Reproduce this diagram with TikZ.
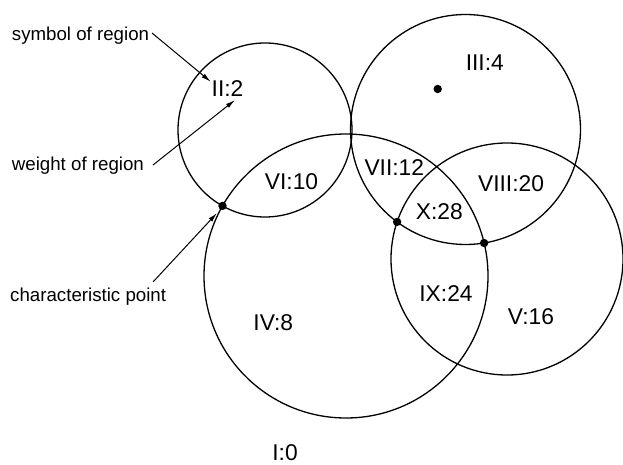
\documentclass[tikz,border=0pt]{standalone}
\usepackage{fontspec}
\setmainfont{Liberation Sans}
\usetikzlibrary{arrows.meta}
\begin{document}
\begin{tikzpicture}[x=1pt,y=-1pt,
  region/.style={circle,draw,line width=1.3pt,inner sep=0pt},
  lab/.style={inner sep=0pt,font=\fontsize{22.8}{26}\selectfont},
  note/.style={inner sep=0pt,anchor=west,font=\fontsize{18.7}{22}\selectfont},
  dotpt/.style={circle,fill,inner sep=0pt,minimum size=8.4pt},
  pointer/.style={line width=1pt,-{Latex[length=9.5pt,width=4.8pt]}}]
\useasboundingbox (0,0) rectangle (623,465);
% circles
\node[region,minimum size=174pt] (cII) at (265,130) {};
\node[region,minimum size=230pt] (cIII) at (465.5,129.5) {};
\node[region,minimum size=284pt] (cIV) at (346,276) {};
\node[region,minimum size=232pt] (cV) at (507,259) {};
% characteristic points
\node[dotpt] (pII) at (222.5,205.9) {};
\node[dotpt] (pIII) at (437.7,89) {};
\node[dotpt] (pX) at (397.1,221.9) {};
\node[dotpt] (pXb) at (484.1,243.0) {};
% region labels
\node[lab] (lII) at (227.5,88.3) {II:2};
\node[lab] (lIII) at (484.8,63) {III:4};
\node[lab] (lVI) at (291.5,181.3) {VI:10};
\node[lab] (lVII) at (394.3,168) {VII:12};
\node[lab] (lVIII) at (511,183.7) {VIII:20};
\node[lab] (lX) at (439.3,211.3) {X:28};
\node[lab] (lIX) at (446,293.7) {IX:24};
\node[lab] (lV) at (531,316.7) {V:16};
\node[lab] (lIV) at (273.3,322.5) {IV:8};
\node[lab] (lI) at (285,453) {I:0};
% notes
\node[note] (nsym) at (11.7,36) {symbol of region};
\node[note] (nwt) at (11.7,165.5) {weight of region};
\node[note] (nch) at (10,296.5) {characteristic point};
% pointer ends
\coordinate (s1) at (152,33);
\coordinate (t1) at (210.7,81.7);
\coordinate (s2) at (153,165);
\coordinate (t2) at (235,100);
\coordinate (s3) at (153,282);
\coordinate (t3) at (217,213);
\draw[pointer] (s1) -- (t1);
\draw[pointer] (s2) -- (t2);
\draw[pointer] (s3) -- (t3);
\end{tikzpicture}
\end{document}
